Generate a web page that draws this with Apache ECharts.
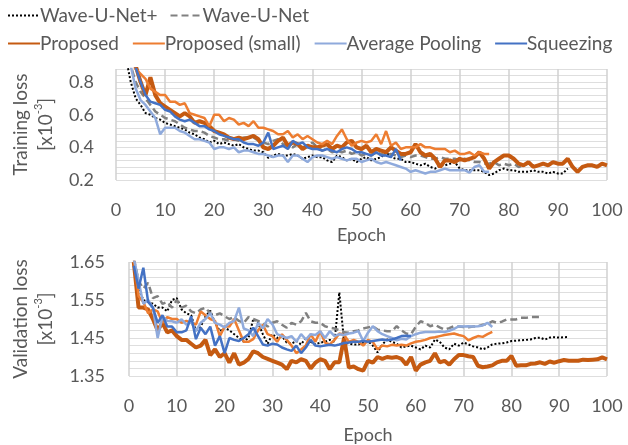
<!DOCTYPE html>
<html>
<head>
<meta charset="utf-8">
<script src="https://cdn.jsdelivr.net/npm/echarts@6/dist/echarts.min.js"></script>
<style>
html, body { margin: 0; padding: 0; background: #fff; }
#chart { width: 628px; height: 445px; }
</style>
</head>
<body>
<div id="chart"></div>
<script>
// series names, in drawing order
var names = ['Wave-U-Net+', 'Wave-U-Net', 'Proposed', 'Proposed (small)', 'Average Pooling', 'Squeezing'];

// training loss [x10^-3], one value per epoch starting at epoch 1
var trainWaveUNetPlus = [1.2, 0.95, 0.80, 0.70, 0.66, 0.61, 0.60, 0.58, 0.57, 0.55, 0.54, 0.53, 0.52, 0.51, 0.49, 0.48, 0.46, 0.45, 0.43, 0.44,
	0.42, 0.43, 0.42, 0.41, 0.42, 0.40, 0.39, 0.38, 0.38, 0.37, 0.335, 0.35, 0.36, 0.35, 0.35, 0.36, 0.35, 0.33, 0.34, 0.35,
	0.34, 0.34, 0.32, 0.31, 0.35, 0.34, 0.32, 0.33, 0.31, 0.33, 0.34, 0.32, 0.33, 0.34, 0.37, 0.34, 0.33, 0.33, 0.31, 0.31,
	0.30, 0.29, 0.30, 0.28, 0.27, 0.29, 0.29, 0.30, 0.31, 0.27, 0.26, 0.26, 0.26, 0.26, 0.25, 0.23, 0.24, 0.26, 0.27, 0.26,
	0.26, 0.25, 0.25, 0.25, 0.26, 0.25, 0.25, 0.24, 0.25, 0.24, 0.24, 0.27];
var trainWaveUNet = [1.2, 1.0, 0.90, 0.80, 0.74, 0.70, 0.66, 0.62, 0.60, 0.58, 0.57, 0.56, 0.54, 0.52, 0.51, 0.50, 0.50, 0.49, 0.47, 0.46,
	0.45, 0.45, 0.44, 0.45, 0.44, 0.46, 0.46, 0.46, 0.44, 0.43, 0.42, 0.44, 0.45, 0.42, 0.41, 0.40, 0.42, 0.40, 0.41, 0.43,
	0.40, 0.38, 0.39, 0.37, 0.38, 0.37, 0.38, 0.36, 0.37, 0.35, 0.36, 0.35, 0.37, 0.36, 0.35, 0.36, 0.35, 0.34, 0.35, 0.34,
	0.35, 0.35, 0.34, 0.33, 0.33, 0.34, 0.33, 0.33, 0.33, 0.32, 0.33, 0.32, 0.31, 0.31, 0.30, 0.30, 0.31, 0.29, 0.30, 0.29,
	0.30, 0.28, 0.29, 0.30, 0.29];
var trainProposed = [1.1, 0.98, 0.92, 0.90, 0.80, 0.72, 0.83, 0.72, 0.67, 0.65, 0.63, 0.61, 0.59, 0.61, 0.59, 0.55, 0.56, 0.55, 0.53, 0.50,
	0.49, 0.48, 0.46, 0.45, 0.46, 0.45, 0.46, 0.47, 0.45, 0.40, 0.39, 0.41, 0.44, 0.46, 0.41, 0.43, 0.42, 0.39, 0.41, 0.40,
	0.40, 0.41, 0.42, 0.39, 0.41, 0.40, 0.43, 0.44, 0.40, 0.39, 0.41, 0.37, 0.39, 0.38, 0.37, 0.40, 0.38, 0.36, 0.36, 0.37,
	0.42, 0.37, 0.35, 0.36, 0.33, 0.28, 0.32, 0.32, 0.31, 0.33, 0.32, 0.33, 0.34, 0.37, 0.33, 0.27, 0.31, 0.33, 0.35, 0.35,
	0.33, 0.30, 0.29, 0.31, 0.28, 0.29, 0.30, 0.29, 0.31, 0.30, 0.30, 0.33, 0.28, 0.25, 0.28, 0.29, 0.29, 0.28, 0.30, 0.29];
var trainProposedSmall = [1.15, 1.0, 0.92, 0.88, 0.85, 0.82, 0.76, 0.74, 0.72, 0.72, 0.68, 0.68, 0.66, 0.67, 0.61, 0.60, 0.59, 0.58, 0.53, 0.60,
	0.60, 0.56, 0.58, 0.57, 0.54, 0.55, 0.53, 0.56, 0.52, 0.52, 0.51, 0.50, 0.48, 0.48, 0.50, 0.46, 0.48, 0.45, 0.47, 0.45,
	0.43, 0.42, 0.44, 0.42, 0.47, 0.51, 0.45, 0.41, 0.43, 0.44, 0.43, 0.44, 0.48, 0.42, 0.50, 0.41, 0.43, 0.39, 0.40, 0.40,
	0.40, 0.42, 0.40, 0.40, 0.39, 0.39, 0.39, 0.37, 0.38, 0.36, 0.36, 0.37, 0.35, 0.37, 0.36, 0.36];
var trainAvgPooling = [1.15, 0.95, 0.90, 0.76, 0.69, 0.66, 0.62, 0.58, 0.48, 0.52, 0.52, 0.52, 0.50, 0.49, 0.47, 0.45, 0.45, 0.44, 0.43, 0.39,
	0.40, 0.40, 0.39, 0.40, 0.37, 0.38, 0.38, 0.37, 0.36, 0.36, 0.35, 0.34, 0.35, 0.35, 0.31, 0.35, 0.35, 0.33, 0.31, 0.34,
	0.35, 0.35, 0.34, 0.33, 0.34, 0.33, 0.32, 0.33, 0.33, 0.31, 0.32, 0.33, 0.31, 0.30, 0.31, 0.30, 0.29, 0.28, 0.27, 0.25,
	0.26, 0.25, 0.24, 0.25, 0.25, 0.26, 0.27, 0.26, 0.26, 0.26, 0.26, 0.245, 0.28, 0.29, 0.25, 0.25];
var trainSqueezing = [1.2, 1.0, 0.92, 0.89, 0.80, 0.72, 0.68, 0.67, 0.66, 0.63, 0.62, 0.59, 0.57, 0.56, 0.57, 0.55, 0.53, 0.53, 0.51, 0.50,
	0.48, 0.47, 0.46, 0.45, 0.45, 0.43, 0.42, 0.42, 0.41, 0.43, 0.49, 0.39, 0.40, 0.41, 0.39, 0.44, 0.42, 0.43, 0.40, 0.39,
	0.39, 0.38, 0.39, 0.38, 0.37, 0.39, 0.40, 0.39, 0.37, 0.37, 0.36, 0.35, 0.37, 0.35, 0.35, 0.34, 0.39, 0.32];

// validation loss [x10^-3], one value per epoch starting at epoch 1
var valWaveUNetPlus = [1.64, 1.58, 1.55, 1.545, 1.54, 1.53, 1.53, 1.52, 1.55, 1.555, 1.525, 1.515, 1.51, 1.47, 1.48, 1.507, 1.522, 1.49, 1.468, 1.477,
	1.47, 1.46, 1.45, 1.44, 1.45, 1.50, 1.49, 1.46, 1.435, 1.46, 1.45, 1.455, 1.438, 1.435, 1.442, 1.433, 1.45, 1.44, 1.433, 1.438,
	1.44, 1.445, 1.44, 1.57, 1.44, 1.435, 1.433, 1.433, 1.438, 1.442, 1.43, 1.412, 1.433, 1.446, 1.44, 1.435, 1.425, 1.428, 1.43, 1.425,
	1.42, 1.43, 1.425, 1.446, 1.44, 1.425, 1.42, 1.435, 1.43, 1.438, 1.433, 1.428, 1.425, 1.42, 1.425, 1.433, 1.435, 1.436, 1.438, 1.442,
	1.443, 1.444, 1.445, 1.446, 1.45, 1.451, 1.446, 1.451, 1.452, 1.451, 1.452, 1.453];
var valWaveUNet = [1.66, 1.60, 1.58, 1.595, 1.555, 1.56, 1.54, 1.545, 1.53, 1.55, 1.53, 1.535, 1.52, 1.515, 1.525, 1.53, 1.515, 1.51, 1.515, 1.507,
	1.50, 1.505, 1.495, 1.49, 1.505, 1.50, 1.495, 1.49, 1.48, 1.49, 1.494, 1.485, 1.477, 1.49, 1.485, 1.494, 1.516, 1.494, 1.49, 1.49,
	1.481, 1.477, 1.475, 1.47, 1.465, 1.464, 1.468, 1.47, 1.475, 1.478, 1.481, 1.472, 1.47, 1.468, 1.468, 1.481, 1.47, 1.462, 1.46, 1.48,
	1.494, 1.49, 1.481, 1.485, 1.478, 1.472, 1.476, 1.481, 1.48, 1.479, 1.478, 1.48, 1.481, 1.485, 1.487, 1.494, 1.49, 1.493, 1.499, 1.499,
	1.499, 1.503, 1.503, 1.505, 1.505, 1.505];
var valProposed = [1.65, 1.53, 1.53, 1.525, 1.50, 1.47, 1.49, 1.465, 1.47, 1.455, 1.445, 1.445, 1.435, 1.425, 1.43, 1.445, 1.405, 1.42, 1.40, 1.41,
	1.385, 1.41, 1.38, 1.385, 1.395, 1.415, 1.41, 1.40, 1.395, 1.39, 1.385, 1.38, 1.368, 1.39, 1.386, 1.394, 1.39, 1.37, 1.385, 1.394,
	1.39, 1.368, 1.386, 1.386, 1.45, 1.372, 1.375, 1.368, 1.364, 1.39, 1.385, 1.40, 1.395, 1.40, 1.398, 1.40, 1.395, 1.38, 1.40, 1.364,
	1.38, 1.386, 1.39, 1.41, 1.386, 1.39, 1.38, 1.394, 1.405, 1.405, 1.402, 1.40, 1.377, 1.373, 1.375, 1.378, 1.386, 1.39, 1.39, 1.403,
	1.377, 1.378, 1.378, 1.382, 1.383, 1.386, 1.382, 1.388, 1.385, 1.389, 1.392, 1.39, 1.39, 1.39, 1.393, 1.392, 1.393, 1.394, 1.399, 1.394];
var valProposedSmall = [1.66, 1.56, 1.545, 1.515, 1.525, 1.52, 1.49, 1.505, 1.50, 1.50, 1.49, 1.495, 1.49, 1.485, 1.52, 1.51, 1.50, 1.495, 1.455, 1.48,
	1.48, 1.50, 1.47, 1.44, 1.44, 1.447, 1.47, 1.485, 1.46, 1.455, 1.44, 1.46, 1.445, 1.43, 1.41, 1.42, 1.43, 1.46, 1.44, 1.468,
	1.438, 1.433, 1.445, 1.462, 1.458, 1.44, 1.445, 1.44, 1.43, 1.445, 1.44, 1.42, 1.43, 1.428, 1.432, 1.43, 1.432, 1.43, 1.436, 1.44,
	1.442, 1.445, 1.45, 1.452, 1.455, 1.458, 1.46, 1.462, 1.458, 1.455, 1.444, 1.45, 1.455, 1.453, 1.46, 1.466];
var valAvgPooling = [1.66, 1.60, 1.54, 1.55, 1.53, 1.45, 1.507, 1.495, 1.494, 1.49, 1.499, 1.485, 1.492, 1.468, 1.49, 1.50, 1.516, 1.49, 1.485, 1.478,
	1.49, 1.495, 1.53, 1.475, 1.47, 1.455, 1.49, 1.475, 1.50, 1.486, 1.46, 1.455, 1.45, 1.455, 1.44, 1.46, 1.446, 1.46, 1.458, 1.468,
	1.45, 1.468, 1.455, 1.46, 1.458, 1.462, 1.464, 1.468, 1.442, 1.464, 1.481, 1.468, 1.46, 1.455, 1.45, 1.444, 1.448, 1.446, 1.455, 1.46,
	1.464, 1.466, 1.466, 1.466, 1.467, 1.466, 1.469, 1.474, 1.481, 1.48, 1.481, 1.48, 1.481, 1.483, 1.49, 1.479];
var valSqueezing = [1.64, 1.58, 1.635, 1.545, 1.53, 1.49, 1.51, 1.48, 1.48, 1.465, 1.465, 1.47, 1.507, 1.447, 1.477, 1.46, 1.48, 1.43, 1.455, 1.41,
	1.45, 1.445, 1.442, 1.45, 1.46, 1.477, 1.455, 1.433, 1.43, 1.435, 1.433, 1.425, 1.42, 1.416, 1.43, 1.41, 1.425, 1.445, 1.43, 1.428,
	1.43, 1.432, 1.43, 1.433, 1.437, 1.438, 1.44, 1.44, 1.442, 1.44, 1.442, 1.444, 1.446, 1.444, 1.446, 1.45, 1.455, 1.456, 1.455];

var trainData = [trainWaveUNetPlus, trainWaveUNet, trainProposed, trainProposedSmall, trainAvgPooling, trainSqueezing];
var valData = [valWaveUNetPlus, valWaveUNet, valProposed, valProposedSmall, valAvgPooling, valSqueezing];

var colors = ['#000000', '#808080', '#C55A11', '#ED7D31', '#8FAADC', '#4472C4'];
var widths = [2, 2.5, 4, 2.5, 2.5, 2.5];
var types = ['dotted', [7, 4], 'solid', 'solid', 'solid', 'solid'];

var textColor = '#595959';
var font = 'Lato';

function pairs(arr) {
	return arr.map(function (v, i) { return [i + 1, v]; });
}

var series = [];
function addSeries(list, axisIdx) {
	for (var i = 0; i < names.length; i++) {
		series.push({
			name: names[i],
			type: 'line',
			xAxisIndex: axisIdx,
			yAxisIndex: axisIdx,
			showSymbol: false,
			symbol: 'none',
			data: pairs(list[i]),
			lineStyle: { color: colors[i], width: widths[i], type: types[i] },
			itemStyle: { color: colors[i] },
			emphasis: { disabled: true }
		});
	}
}
addSeries(trainData, 0);
addSeries(valData, 1);

function xAxis(idx, gap) {
	return {
		type: 'value', gridIndex: idx, min: 0, max: 100, interval: 10,
		name: 'Epoch', nameLocation: 'middle', nameGap: gap,
		nameTextStyle: { color: textColor, fontSize: 18, fontFamily: font },
		axisLine: { show: false },
		axisTick: { show: false },
		axisLabel: { color: textColor, fontSize: 18, fontFamily: font, margin: 21 },
		splitLine: { show: true, lineStyle: { color: '#d0d0d0', width: 1.5 } }
	};
}

var sup = { fontSize: 11, verticalAlign: 'top', padding: [0, 0, 8, 0], color: textColor, fontFamily: font };

var legendText = { color: textColor, fontSize: 19, fontFamily: font, padding: [0, 0, 0, -5] };

var option = {
	animation: false,
	backgroundColor: '#fff',
	textStyle: { fontFamily: font },
	legend: [{
		data: names.slice(0, 2),
		left: 2, top: 1,
		itemWidth: 32, itemHeight: 12, itemGap: 12,
		itemStyle: { opacity: 0 },
		textStyle: legendText
	}, {
		data: names.slice(2),
		left: 2, top: 29,
		itemWidth: 32, itemHeight: 12, itemGap: 13,
		itemStyle: { opacity: 0 },
		textStyle: legendText
	}],
	grid: [
		{ left: 110, right: 21, top: 69, height: 111 },
		{ left: 125, right: 21, top: 262, height: 115 }
	],
	xAxis: [xAxis(0, 46), xAxis(1, 50)],
	yAxis: [{
		type: 'value', gridIndex: 0, min: 0.2, max: 0.88, interval: 0.04,
		name: 'Training loss\n[x10{sup|-3}]', nameLocation: 'middle', nameRotate: 90, nameGap: 56,
		nameTextStyle: { color: textColor, fontSize: 19, fontFamily: font, lineHeight: 25, align: 'center', rich: { sup: sup } },
		axisLine: { show: false },
		axisTick: { show: false },
		axisLabel: {
			color: textColor, fontSize: 18, fontFamily: font, margin: 22,
			formatter: function (v) {
				var r = Math.round(v * 100);
				return (r % 20 === 0 && r <= 80) ? (r / 100).toFixed(1) : '';
			}
		},
		splitLine: { show: true, lineStyle: { color: '#dedede', width: 1 } }
	}, {
		type: 'value', gridIndex: 1, min: 1.35, max: 1.65, interval: 0.02,
		name: 'Validation loss\n[x10{sup|-3}]', nameLocation: 'middle', nameRotate: 90, nameGap: 71,
		nameTextStyle: { color: textColor, fontSize: 19, fontFamily: font, lineHeight: 25, align: 'center', rich: { sup: sup } },
		axisLine: { show: false },
		axisTick: { show: false },
		axisLabel: {
			color: textColor, fontSize: 18, fontFamily: font, margin: 24,
			formatter: function (v) {
				var r = Math.round(v * 100);
				return ((r - 135) % 10 === 0) ? (r / 100).toFixed(2) : '';
			}
		},
		splitLine: { show: true, lineStyle: { color: '#dedede', width: 1 } }
	}],
	series: series
};

var chart = echarts.init(document.getElementById('chart'));
chart.setOption(option);
</script>
</body>
</html>
